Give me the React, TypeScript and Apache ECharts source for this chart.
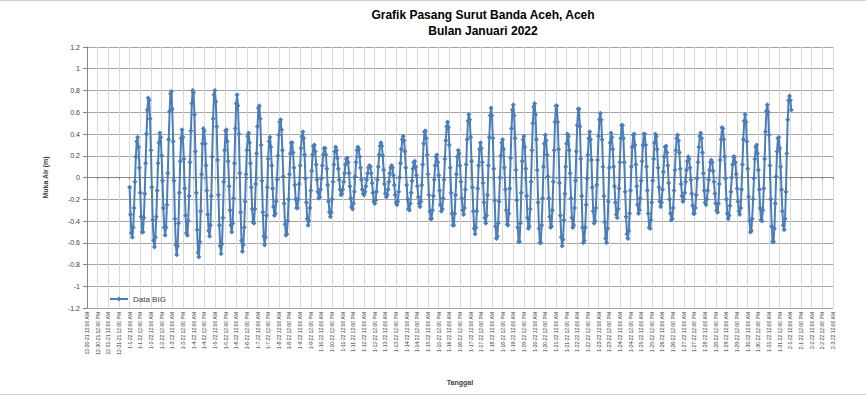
import React, { useEffect, useRef } from "react";
import * as echarts from "echarts";

const TITLE_LINES = ["Grafik Pasang Surut Banda Aceh, Aceh", "Bulan Januari 2022"];
const SERIES_NAME = "Data BIG";
const Y_NAME = "Muka Air (m)";
const X_NAME = "Tanggal";

const HOUR = 3600000;
const DATA_START = Date.UTC(2022, 0, 1, 0);
const AXIS_MIN = Date.UTC(2021, 11, 30, 0);
const AXIS_MAX = Date.UTC(2022, 1, 3, 0);
const X_STEP = 12 * HOUR;
const Y_MIN = -1.2;
const Y_MAX = 1.2;
const Y_STEP = 0.2;

// hourly water level (m), 1 Jan 2022 00:00 onward
const week1 = [
  -0.09,-0.34,-0.51,-0.55,-0.46,-0.28,-0.04,0.19,0.33,0.37,0.28,0.09,-0.14,-0.36,-0.50,-0.50,-0.37,-0.15,0.13,0.40,0.62,0.73,0.71,0.54,
  0.25,-0.09,-0.39,-0.58,-0.64,-0.55,-0.36,-0.12,0.13,0.32,0.41,0.37,0.20,-0.03,-0.28,-0.46,-0.53,-0.46,-0.25,0.04,0.35,0.61,0.77,0.79,
  0.63,0.33,-0.03,-0.38,-0.62,-0.71,-0.63,-0.42,-0.14,0.15,0.36,0.44,0.37,0.17,-0.10,-0.35,-0.51,-0.53,-0.40,-0.17,0.14,0.43,0.68,0.80,
  0.78,0.58,0.24,-0.14,-0.48,-0.69,-0.73,-0.59,-0.31,0.03,0.31,0.45,0.43,0.31,0.11,-0.12,-0.34,-0.49,-0.54,-0.44,-0.17,0.19,0.54,0.76,
  0.80,0.70,0.47,0.16,-0.16,-0.44,-0.63,-0.70,-0.61,-0.37,-0.04,0.25,0.43,0.44,0.33,0.15,-0.08,-0.30,-0.44,-0.50,-0.42,-0.19,0.13,0.45,
  0.68,0.76,0.66,0.40,0.04,-0.32,-0.58,-0.68,-0.62,-0.46,-0.22,0.03,0.25,0.38,0.41,0.32,0.13,-0.09,-0.29,-0.41,-0.42,-0.29,-0.06,0.22,
  0.47,0.64,0.66,0.54,0.30,-0.03,-0.32,-0.54,-0.62,-0.55,-0.35,-0.09,0.17,0.33,0.37,0.28,0.11,-0.10,-0.27,-0.35,-0.33,-0.22,-0.02,0.20,
];
const week2 = [
  0.39,0.51,0.53,0.44,0.25,0.01,-0.24,-0.43,-0.53,-0.52,-0.40,-0.20,0.03,0.22,0.32,0.32,0.23,0.09,-0.07,-0.20,-0.28,-0.28,-0.20,-0.06,
  0.11,0.27,0.38,0.42,0.36,0.21,-0.01,-0.23,-0.38,-0.44,-0.40,-0.28,-0.12,0.06,0.21,0.29,0.30,0.24,0.12,-0.02,-0.13,-0.19,-0.18,-0.11,
  -0.01,0.11,0.21,0.27,0.27,0.21,0.08,-0.07,-0.22,-0.32,-0.36,-0.32,-0.20,-0.04,0.12,0.24,0.28,0.25,0.18,0.08,-0.02,-0.11,-0.16,-0.15,
  -0.11,-0.04,0.04,0.12,0.17,0.18,0.14,0.04,-0.08,-0.19,-0.27,-0.29,-0.24,-0.13,0.01,0.14,0.25,0.28,0.26,0.19,0.09,-0.02,-0.11,-0.15,
  -0.16,-0.13,-0.08,-0.02,0.04,0.09,0.11,0.10,0.04,-0.05,-0.14,-0.22,-0.24,-0.21,-0.13,-0.02,0.10,0.21,0.29,0.32,0.29,0.20,0.07,-0.06,
  -0.15,-0.18,-0.16,-0.11,-0.04,0.04,0.09,0.11,0.09,0.02,-0.07,-0.16,-0.23,-0.25,-0.22,-0.13,0.00,0.13,0.26,0.35,0.38,0.34,0.24,0.09,
  -0.07,-0.20,-0.29,-0.30,-0.24,-0.14,-0.03,0.08,0.14,0.15,0.10,0.02,-0.08,-0.18,-0.24,-0.27,-0.22,-0.07,0.12,0.31,0.42,0.43,0.36,0.21,
];
const week3 = [
  0.03,-0.16,-0.31,-0.38,-0.38,-0.30,-0.17,-0.02,0.11,0.19,0.21,0.14,0.02,-0.12,-0.25,-0.31,-0.29,-0.19,-0.02,0.17,0.34,0.47,0.51,0.46,
  0.30,0.09,-0.14,-0.33,-0.44,-0.44,-0.33,-0.16,0.03,0.19,0.25,0.22,0.11,-0.04,-0.19,-0.30,-0.34,-0.28,-0.11,0.12,0.35,0.52,0.58,0.53,
  0.37,0.15,-0.09,-0.31,-0.47,-0.52,-0.46,-0.31,-0.10,0.11,0.26,0.32,0.27,0.14,-0.05,-0.23,-0.37,-0.42,-0.35,-0.16,0.11,0.37,0.57,0.64,
  0.57,0.36,0.08,-0.21,-0.45,-0.56,-0.54,-0.42,-0.22,0.00,0.20,0.32,0.35,0.26,0.09,-0.11,-0.30,-0.43,-0.44,-0.33,-0.10,0.18,0.45,0.62,
  0.67,0.57,0.36,0.07,-0.21,-0.46,-0.59,-0.59,-0.42,-0.14,0.15,0.35,0.38,0.28,0.08,-0.17,-0.37,-0.47,-0.45,-0.29,-0.04,0.25,0.50,0.65,
  0.68,0.58,0.35,0.07,-0.23,-0.47,-0.60,-0.60,-0.44,-0.19,0.10,0.31,0.39,0.34,0.21,0.01,-0.19,-0.36,-0.46,-0.45,-0.30,-0.04,0.25,0.51,
  0.66,0.66,0.51,0.26,-0.05,-0.35,-0.55,-0.63,-0.57,-0.39,-0.15,0.10,0.31,0.40,0.38,0.25,0.04,-0.19,-0.37,-0.46,-0.44,-0.28,-0.03,0.24,
];
const week4 = [
  0.48,0.63,0.63,0.47,0.17,-0.17,-0.46,-0.60,-0.58,-0.46,-0.25,-0.01,0.21,0.36,0.42,0.35,0.16,-0.09,-0.31,-0.42,-0.40,-0.28,-0.07,0.16,
  0.38,0.53,0.59,0.53,0.35,0.10,-0.17,-0.41,-0.56,-0.60,-0.47,-0.22,0.09,0.32,0.41,0.37,0.26,0.10,-0.08,-0.23,-0.34,-0.37,-0.29,-0.10,
  0.14,0.36,0.48,0.48,0.36,0.14,-0.13,-0.36,-0.52,-0.56,-0.49,-0.33,-0.12,0.10,0.28,0.39,0.40,0.30,0.12,-0.08,-0.25,-0.33,-0.30,-0.19,
  -0.03,0.15,0.30,0.40,0.40,0.30,0.10,-0.12,-0.33,-0.46,-0.47,-0.39,-0.23,-0.03,0.17,0.32,0.40,0.38,0.26,0.09,-0.09,-0.22,-0.27,-0.23,
  -0.11,0.05,0.19,0.28,0.29,0.23,0.11,-0.05,-0.20,-0.33,-0.39,-0.38,-0.28,-0.12,0.07,0.25,0.36,0.39,0.34,0.23,0.08,-0.06,-0.17,-0.22,
  -0.20,-0.14,-0.04,0.07,0.15,0.19,0.17,0.09,-0.02,-0.15,-0.26,-0.33,-0.33,-0.28,-0.16,-0.01,0.14,0.28,0.38,0.41,0.36,0.23,0.04,-0.12,
  -0.23,-0.25,-0.20,-0.12,-0.02,0.07,0.14,0.16,0.14,0.06,-0.04,-0.15,-0.24,-0.30,-0.32,-0.24,-0.06,0.16,0.35,0.46,0.45,0.35,0.19,-0.01,
];
const week5 = [
  -0.20,-0.33,-0.38,-0.35,-0.26,-0.13,0.00,0.12,0.19,0.19,0.14,0.03,-0.10,-0.22,-0.31,-0.34,-0.28,-0.11,0.12,0.35,0.52,0.58,0.51,0.33,
  0.08,-0.18,-0.40,-0.50,-0.49,-0.38,-0.20,-0.01,0.17,0.28,0.30,0.22,0.07,-0.11,-0.28,-0.39,-0.40,-0.30,-0.10,0.17,0.42,0.61,0.67,0.60,
  0.39,0.11,-0.20,-0.45,-0.59,-0.59,-0.47,-0.24,0.01,0.24,0.36,0.37,0.27,0.10,-0.11,-0.31,-0.44,-0.48,-0.38,-0.13,0.22,0.53,0.71,0.75,
  0.71,0.62,
];

const FONT = "'Liberation Sans', Arial, sans-serif";
const LINE_COLOR = "#4a7ebb";

function fmtDate(v: number): string {
  const d = new Date(v);
  const m = d.getUTCMonth() + 1;
  const day = d.getUTCDate();
  const yy = d.getUTCFullYear() % 100;
  const h = d.getUTCHours();
  const ap = h < 12 ? "AM" : "PM";
  const hh = h % 12 === 0 ? 12 : h % 12;
  return `${m}-${day}-${yy} ${hh}:00 ${ap}`;
}

export default function App() {
  const ref = useRef<HTMLDivElement>(null);
  useEffect(() => {
    if (!ref.current) return;
    const chart = echarts.init(ref.current, null, { renderer: "svg" });
    const values = [...week1, ...week2, ...week3, ...week4, ...week5];
    const data = values.map((v, i) => [DATA_START + i * HOUR, v]);
    chart.setOption({
      animation: false,
      backgroundColor: "#ffffff",
      graphic: [
        {
          type: "text",
          x: 483,
          y: 7,
          style: {
            text: TITLE_LINES.join("\n"),
            textAlign: "center",
            font: `bold 12px ${FONT}`,
            lineHeight: 16,
            fill: "#000000",
          },
        },
        {
          type: "line",
          shape: { x1: 0, y1: 0.5, x2: 866, y2: 0.5 },
          style: { stroke: "#d0d0d0", lineWidth: 1 },
        },
        {
          type: "line",
          shape: { x1: 0, y1: 394.5, x2: 866, y2: 394.5 },
          style: { stroke: "#d0d0d0", lineWidth: 1 },
        },
      ],
      grid: { left: 87, right: 33, top: 47, bottom: 88, containLabel: false },
      legend: {
        left: 104,
        top: 290,
        itemWidth: 18,
        itemHeight: 6,
        textStyle: { fontSize: 8, color: "#404040", fontFamily: FONT },
        data: [SERIES_NAME],
      },
      xAxis: [
        {
          type: "value",
          min: AXIS_MIN,
          max: AXIS_MAX,
          interval: X_STEP,
          name: X_NAME,
          nameLocation: "middle",
          nameGap: 71,
          nameTextStyle: { fontSize: 7, fontWeight: "bold", color: "#404040", fontFamily: FONT },
          axisLine: { show: false, onZero: false },
          axisTick: { show: false },
          axisLabel: {
            rotate: 90,
            fontSize: 5,
            color: "#333333",
            fontFamily: FONT,
            margin: 4,
            formatter: (v: number) => fmtDate(v),
          },
          splitLine: { show: true, lineStyle: { color: "#d9d9d9", width: 1 } },
        },
        {
          type: "value",
          min: AXIS_MIN,
          max: AXIS_MAX,
          interval: X_STEP,
          position: "top",
          axisLine: { show: true, onZero: true, lineStyle: { color: "#868686", width: 1 } },
          axisTick: { show: true, inside: true, length: 2, lineStyle: { color: "#868686" } },
          axisLabel: { show: false },
          splitLine: { show: false },
        },
      ],
      yAxis: {
        type: "value",
        min: Y_MIN,
        max: Y_MAX,
        interval: Y_STEP,
        name: Y_NAME,
        nameLocation: "middle",
        nameRotate: 90,
        nameGap: 38,
        nameTextStyle: { fontSize: 7, fontWeight: "bold", color: "#404040", fontFamily: FONT },
        axisLine: { show: true, lineStyle: { color: "#868686" } },
        axisTick: { show: true, length: 4, lineStyle: { color: "#868686" } },
        axisLabel: { fontSize: 7, color: "#404040", fontFamily: FONT, margin: 7 },
        splitLine: { show: true, lineStyle: { color: "#a6a6a6", width: 1 } },
      },
      series: [
        {
          name: SERIES_NAME,
          type: "line",
          xAxisIndex: 0,
          data,
          symbol: "diamond",
          symbolSize: 5,
          showSymbol: true,
          showAllSymbol: true,
          lineStyle: { color: LINE_COLOR, width: 2 },
          itemStyle: { color: LINE_COLOR },
        },
      ],
    });
    return () => chart.dispose();
  }, []);
  return (
    <div
      ref={ref}
      style={{ position: "absolute", left: 0, top: 0, width: 866, height: 396 }}
    />
  );
}
